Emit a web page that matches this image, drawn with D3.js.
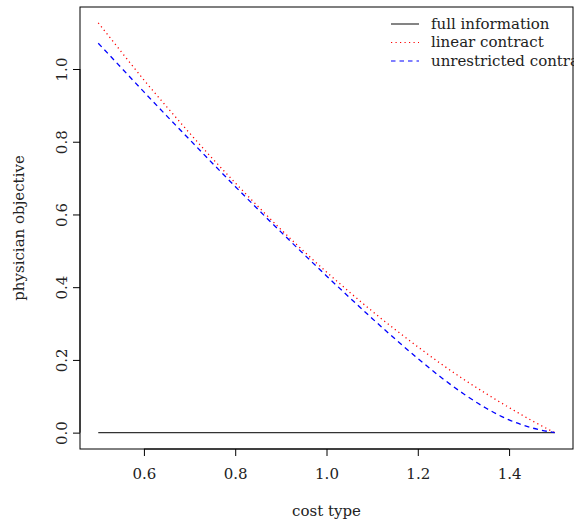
<!DOCTYPE html>
<html><head><meta charset="utf-8">
<script src="https://cdn.jsdelivr.net/npm/d3@7"></script>
<style>body{margin:0;background:#fff}svg{display:block}text{font-family:"DejaVu Serif",serif;fill:#222}</style>
</head><body>
<script>
const costType = [0.5,0.55,0.6,0.65,0.7,0.75,0.8,0.85,0.9,0.95,1.0,1.05,1.1,1.15,1.2,1.25,1.3,1.35,1.4,1.45,1.5];
const fullInfo = [0,0,0,0,0,0,0,0,0,0,0,0,0,0,0,0,0,0,0,0,0];
const linearContract = [1.127,1.048,0.970,0.896,0.824,0.754,0.687,0.622,0.559,0.499,0.442,0.387,0.334,0.284,0.236,0.190,0.147,0.107,0.069,0.033,0.0];
const unrestricted = [1.071,1.004,0.937,0.871,0.806,0.741,0.677,0.614,0.552,0.491,0.431,0.372,0.314,0.258,0.204,0.153,0.107,0.067,0.035,0.013,0.0];
const xTicks = [0.6,0.8,1.0,1.2,1.4];
const yTicks = [0.0,0.2,0.4,0.6,0.8,1.0];
const legendLabels = ["full information","linear contract","unrestricted contract"];

const W=574,H=525;
const L=80,R=573,T=7,B=449;
const svg=d3.select("body").append("svg").attr("width",W).attr("height",H);
const x=d3.scaleLinear().domain([0.46,1.54]).range([L,R]);
const y=d3.scaleLinear().domain([-0.045,1.1705]).range([B,T]);

const series=[
 {vals:fullInfo,color:"#333",dash:null,w:1.3},
 {vals:linearContract,color:"#ff0000",dash:"1.2,3.3",w:1.3},
 {vals:unrestricted,color:"#0000ff",dash:"5,4",w:1.3}
];
const line=d3.line().x((d,i)=>x(costType[i])).y(d=>y(d)).curve(d3.curveMonotoneX);
series.forEach(s=>{
  svg.append("path").attr("d",line(s.vals)).attr("fill","none").attr("stroke",s.color)
   .attr("stroke-width",s.w).attr("stroke-dasharray",s.dash);
});

svg.append("rect").attr("x",L).attr("y",T).attr("width",R-L).attr("height",B-T)
  .attr("fill","none").attr("stroke","#000").attr("stroke-width",1);

const xa=svg.append("g").attr("transform",`translate(0,${B})`)
  .call(d3.axisBottom(x).tickValues(xTicks).tickFormat(d3.format(".1f")).tickSizeOuter(0).tickSizeInner(7).tickPadding(12));
xa.select(".domain").attr("d",`M${x(0.6)},0H${x(1.4)}`).attr("stroke","#000");
xa.selectAll("text").style("font-size","15px").style("font-family","DejaVu Serif").attr("fill","#222");

const ya=svg.append("g").attr("transform",`translate(${L},0)`)
  .call(d3.axisLeft(y).tickValues(yTicks).tickFormat(d3.format(".1f")).tickSizeOuter(0).tickSizeInner(7));
ya.select(".domain").attr("d",`M0,${y(0)}V${y(1)}`).attr("stroke","#000");
ya.selectAll(".tick text").attr("x",null).attr("dy",null).attr("text-anchor","middle")
  .attr("transform","translate(-18,0) rotate(-90)").attr("dy","0.35em")
  .style("font-size","15px").style("font-family","DejaVu Serif").attr("fill","#222");

svg.append("text").attr("x",(L+R)/2-0).attr("y",516).attr("text-anchor","middle")
  .style("font-size","15px").text("cost type");
svg.append("text").attr("transform",`translate(24,${(T+B)/2}) rotate(-90)`).attr("text-anchor","middle")
  .style("font-size","15px").text("physician objective");

const lg=svg.append("g");
legendLabels.forEach((lab,i)=>{
  const yy=24+i*18.5;
  const s=series[i];
  lg.append("line").attr("x1",391).attr("x2",419).attr("y1",yy).attr("y2",yy)
    .attr("stroke",s.color).attr("stroke-width",1.2).attr("stroke-dasharray",s.dash?(i===1?"1.2,3.3":"4.5,4"):null);
  lg.append("text").attr("x",431).attr("y",yy).attr("dy","0.33em").style("font-size","15px").text(lab);
});
</script>
</body></html>
